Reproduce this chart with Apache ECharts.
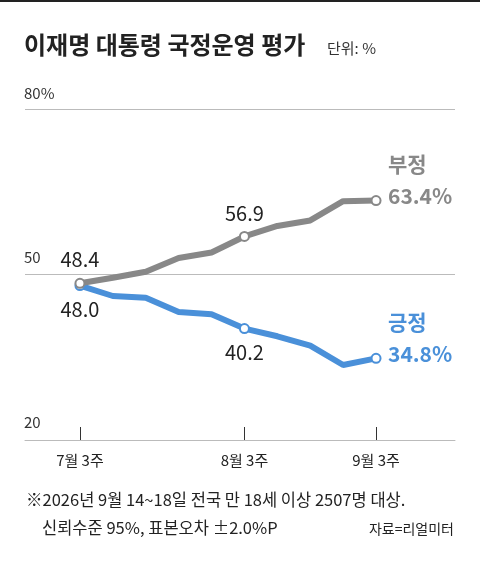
<!DOCTYPE html>
<html><head><meta charset="utf-8">
<script src="https://cdn.jsdelivr.net/npm/echarts@6/dist/echarts.min.js"></script>
<style>html,body{margin:0;padding:0;background:#fff}#c{width:480px;height:566px}</style>
</head><body><div id="c"></div>
<script>
// 데이터
const weeks = ['7월 3주','7월 4주','7월 5주','8월 1주','8월 2주','8월 3주','8월 4주','9월 1주','9월 2주','9월 3주'];
const negative = [48.4, 49.4, 50.5, 53.0, 54.0, 56.9, 58.8, 59.8, 63.3, 63.4];
const positive = [48.0, 46.1, 45.8, 43.2, 42.8, 40.2, 38.8, 37.1, 33.6, 34.8];
const labelIdx = [0, 5, 9];

const GRAY = '#888888';
const BLUE = '#4a90d9';
const FONT = '"Noto Sans CJK KR", sans-serif';

function seriesData(vals, color, pos) {
    return vals.map((v, i) => {
        const item = { value: [i, v] };
        if (labelIdx.includes(i)) {
            item.symbol = 'circle';
            item.symbolSize = 9;
            item.itemStyle = { color: '#fff', borderColor: color, borderWidth: 2 };
            item.label = {
                show: i !== 9, position: pos, distance: 8, fontSize: 20, color: '#222', fontFamily: FONT,
                formatter: v.toFixed(1)
            };
        }
        return item;
    });
}

const chart = echarts.init(document.getElementById('c'));
chart.setOption({
    animation: false,
    textStyle: { fontFamily: FONT },
    graphic: [
        { type: 'rect', shape: { x: 0, y: 0, width: 480, height: 2 }, style: { fill: '#222' } },
        { type: 'text', left: 24, top: 33, style: { text: '이재명 대통령 국정운영 평가', font: 'bold 24px ' + FONT, fill: '#222' } },
        { type: 'text', left: 327, top: 41, style: { text: '단위: %', font: '15px ' + FONT, fill: '#333' } },
        { type: 'text', left: 24, top: 86, style: { text: '80%', font: '15px ' + FONT, fill: '#333' } },
        { type: 'text', left: 24, top: 250, style: { text: '50', font: '15px ' + FONT, fill: '#333' } },
        { type: 'text', left: 24, top: 415, style: { text: '20', font: '15px ' + FONT, fill: '#333' } },
        { type: 'text', left: 388, top: 154, style: { text: '부정', font: 'bold 21px ' + FONT, fill: GRAY } },
        { type: 'text', left: 388, top: 186, style: { text: '63.4%', font: 'bold 21px ' + FONT, fill: GRAY } },
        { type: 'text', left: 388, top: 312, style: { text: '긍정', font: 'bold 21px ' + FONT, fill: BLUE } },
        { type: 'text', left: 388, top: 344, style: { text: '34.8%', font: 'bold 21px ' + FONT, fill: BLUE } },
        { type: 'text', left: 26, top: 491, style: { text: '※2026년 9월 14~18일 전국 만 18세 이상 2507명 대상.', font: '16.5px ' + FONT, fill: '#222' } },
        { type: 'text', left: 42, top: 519, style: { text: '신뢰수준 95%, 표본오차 ±2.0%P', font: '16.5px ' + FONT, fill: '#222' } },
        { type: 'text', right: 26, top: 522, style: { text: '자료=리얼미터', font: '14px ' + FONT, fill: '#222' } }
    ],
    grid: { left: 25, right: 25, top: 109, bottom: 126 },
    xAxis: {
        type: 'value', min: -1.67, max: 11.4,
        splitLine: { show: false },
        axisLine: { show: true, onZero: false, lineStyle: { color: '#bbb', width: 1 } },
        axisTick: { show: true, customValues: labelIdx, inside: true, length: 13, lineStyle: { color: '#333' } },
        axisLabel: {
            customValues: labelIdx, fontSize: 15, color: '#222', margin: 13,
            formatter: v => weeks[Math.round(v)]
        }
    },
    yAxis: {
        type: 'value', min: 20, max: 80, interval: 30,
        axisLabel: { show: false },
        axisLine: { show: false }, axisTick: { show: false },
        splitLine: { lineStyle: { color: '#bbb', width: 1 } }
    },
    series: [
        {
            type: 'line', data: seriesData(positive, BLUE, 'bottom'), symbol: 'none',
            lineStyle: { color: BLUE, width: 6 }, z: 2
        },
        {
            type: 'line', data: seriesData(negative, GRAY, 'top'), symbol: 'none',
            lineStyle: { color: GRAY, width: 6 }, z: 3
        }
    ]
});
</script></body></html>
